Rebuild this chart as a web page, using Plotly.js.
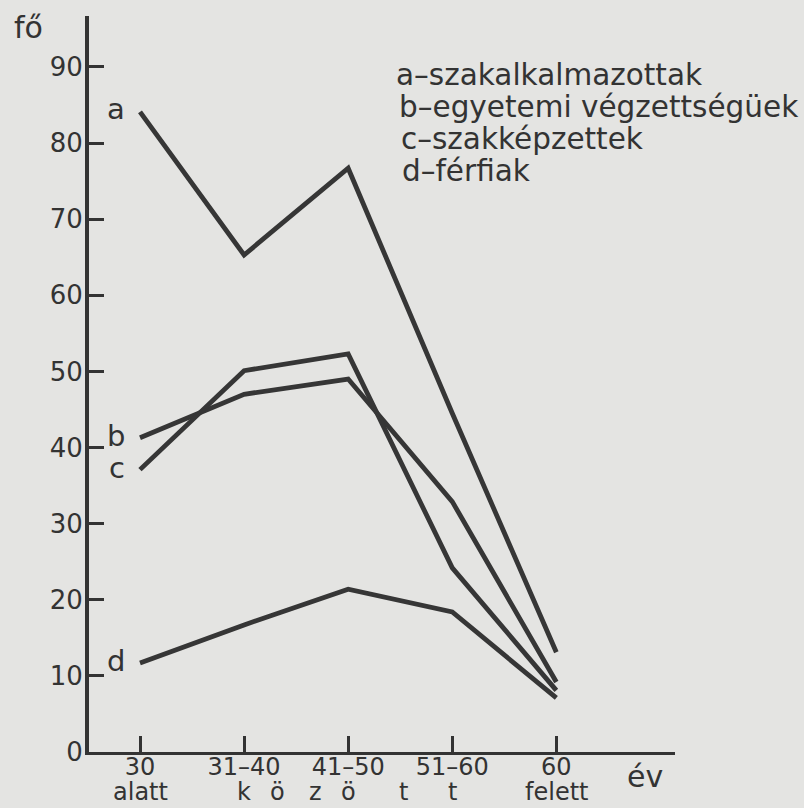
<!DOCTYPE html>
<html>
<head>
<meta charset="utf-8">
<script src="https://cdn.plot.ly/plotly-3.0.1.min.js"></script>
<style>
html,body{margin:0;padding:0;background:#e4e4e2;}
#chart{width:804px;height:808px;}
</style>
</head>
<body>
<div id="chart"></div>
<script>
const categories = ["30", "31–40", "41–50", "51–60", "60"];
const secondRow = ["alatt", "k", "ö", "t", "felett"];
const betweenLetters = ["ö", "z", "t"];
const betweenPos = [1.32, 1.69, 2.53];
const seriesA = [84.1, 65.3, 76.7, 44.5, 13.1];
const seriesB = [41.3, 47.0, 49.0, 32.9, 9.2];
const seriesC = [37.1, 50.1, 52.3, 24.2, 8.1];
const seriesD = [11.7, 16.7, 21.4, 18.4, 7.1];
const seriesLetters = ["a", "b", "c", "d"];
const legendLines = [
  "a–szakalkalmazottak",
  "b–egyetemi végzettségüek",
  "c–szakképzettek",
  "d–férfiak"
];
const yTicks = [0, 10, 20, 30, 40, 50, 60, 70, 80, 90];

const ink = "#333333";
const FONT = "DejaVu Sans, sans-serif";
const xIdx = categories.map((_, i) => i);

const allSeries = [seriesA, seriesB, seriesC, seriesD];
const traces = allSeries.map(s => ({
  x: xIdx, y: s, type: "scatter", mode: "lines",
  line: {color: "#363636", width: 4.8},
  hoverinfo: "skip", showlegend: false
}));

const annotations = [];
// series letters near line starts
allSeries.forEach((s, i) => {
  annotations.push({
    x: 0, y: s[0], xref: "x", yref: "y", text: seriesLetters[i],
    showarrow: false, xanchor: "right", xshift: -13, yshift: (i === 0 ? 3 : 2),
    font: {family: FONT, size: 29, color: ink}
  });
});
// second row of x labels
const rowFont = {family: FONT, size: 24, color: ink};
secondRow.forEach((t, i) => {
  annotations.push({
    x: i, y: 0, xref: "x", yref: "paper", text: t, showarrow: false,
    yanchor: "bottom", yshift: -56, font: rowFont
  });
});
betweenLetters.forEach((t, i) => {
  annotations.push({
    x: betweenPos[i], y: 0, xref: "x", yref: "paper", text: t, showarrow: false,
    yanchor: "bottom", yshift: -56, font: rowFont
  });
});
// unit labels
annotations.push({
  x: 4.85, y: 0, xref: "x", yref: "paper", text: "év", showarrow: false,
  yanchor: "middle", yshift: -24, font: {family: FONT, size: 30, color: ink}
});
annotations.push({
  x: 0, y: 1, xref: "paper", yref: "paper", text: "fő", showarrow: false,
  xanchor: "right", yanchor: "top", xshift: -44, yshift: 8,
  font: {family: FONT, size: 30, color: ink}
});
// legend text block
const legendIndent = [0, 3, 5, 6];
legendLines.forEach((t, i) => {
  annotations.push({
    x: 0.527, y: 1, xref: "paper", yref: "paper", text: t, showarrow: false,
    xanchor: "left", yanchor: "middle", xshift: legendIndent[i] - 4, yshift: -59 - i * 32,
    font: {family: FONT, size: 29.5, color: ink}
  });
});

const layout = {
  width: 804, height: 808,
  margin: {l: 89, r: 129, t: 16, b: 56},
  paper_bgcolor: "#e4e4e2",
  plot_bgcolor: "#e4e4e2",
  showlegend: false,
  xaxis: {
    range: [-0.49, 5.14],
    tickmode: "array", tickvals: xIdx, ticktext: categories,
    ticks: "inside", ticklen: 16, tickwidth: 3, tickcolor: ink,
    showline: true, linecolor: ink, linewidth: 3,
    showgrid: false, zeroline: false,
    ticklabelstandoff: -9,
    tickfont: {family: FONT, size: 24, color: ink}
  },
  yaxis: {
    range: [0, 96.7],
    tickmode: "array", tickvals: yTicks,
    ticks: "inside", ticklen: 15, tickwidth: 3, tickcolor: ink,
    showline: true, linecolor: ink, linewidth: 4,
    showgrid: false, zeroline: false,
    ticklabelstandoff: -3,
    tickfont: {family: FONT, size: 26, color: ink}
  },
  annotations: annotations
};

Plotly.newPlot("chart", traces, layout, {staticPlot: true, displayModeBar: false});
</script>
</body>
</html>
